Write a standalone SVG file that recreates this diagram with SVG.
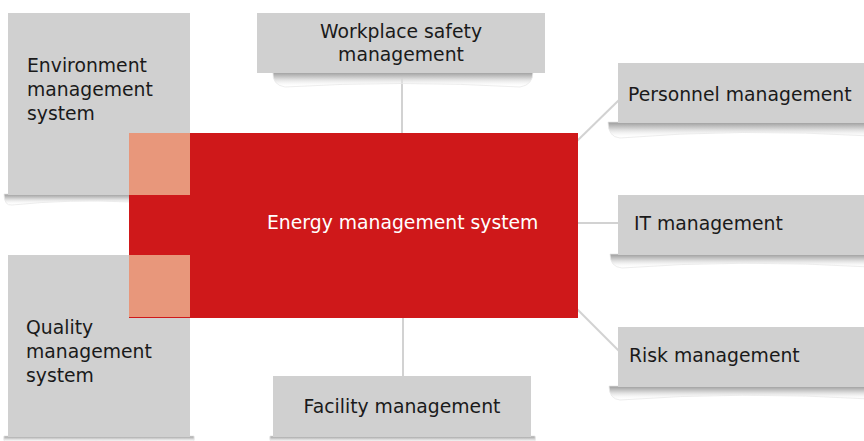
<svg xmlns="http://www.w3.org/2000/svg" width="864" height="441" viewBox="0 0 864 441">
<defs>
<linearGradient id="sh" x1="0" y1="0" x2="0" y2="1">
<stop offset="0" stop-color="#9a9a9a"/>
<stop offset="0.4" stop-color="#d2d2d2"/>
<stop offset="1" stop-color="#ffffff" stop-opacity="0"/>
</linearGradient>
<style>
.box{fill:#d0d0d0}
.shadow{fill:url(#sh);stroke:#e8e8e8;stroke-width:0.8}
.lbl{font-family:"DejaVu Sans","Liberation Sans",sans-serif;font-size:18.8px;fill:#1a1a1a}
.main{font-family:"DejaVu Sans","Liberation Sans",sans-serif;font-size:18.8px;fill:#ffffff}
.conn{stroke:#d2d2d2;stroke-width:2;fill:none}
</style>
</defs>
<rect width="864" height="441" fill="#ffffff"/>

<g id="connectors">
<line class="conn" x1="402" y1="73" x2="402" y2="134"/>
<line class="conn" x1="403" y1="317" x2="403" y2="376"/>
<line class="conn" x1="577" y1="141" x2="619" y2="100"/>
<line class="conn" x1="577" y1="223" x2="619" y2="223"/>
<line class="conn" x1="577" y1="309" x2="619" y2="351"/>
</g>

<g id="env">
<path class="shadow" d="M4,194 L130,194 L130,202 Q70,199 12,205 Q4,206 4,194 Z"/>
<rect class="box" x="8" y="13" width="182" height="182"/>
<text class="lbl" x="27" y="72">Environment</text>
<text class="lbl" x="27" y="96">management</text>
<text class="lbl" x="27" y="120">system</text>
</g>

<g id="quality">
<path class="shadow" d="M4,436 L194,436 Q196,445 186,442 Q100,439 12,442 Q2,445 4,436 Z"/>
<rect class="box" x="8" y="255" width="182" height="182"/>
<text class="lbl" x="26" y="334">Quality</text>
<text class="lbl" x="26" y="358">management</text>
<text class="lbl" x="26" y="382">system</text>
</g>

<g id="workplace">
<path class="shadow" d="M273,72 L533,72 Q533,85 520,87 Q400,80 285,87 Q272,85 273,72 Z"/>
<rect class="box" x="257" y="13" width="288" height="60"/>
<text class="lbl" x="401" y="38" text-anchor="middle">Workplace safety</text>
<text class="lbl" x="401" y="61" text-anchor="middle">management</text>
</g>

<g id="facility">
<path class="shadow" d="M270,436 L535,436 Q538,445 525,443 Q400,440 280,443 Q268,445 270,436 Z"/>
<rect class="box" x="273" y="376" width="258" height="61"/>
<text class="lbl" x="402" y="413" text-anchor="middle">Facility management</text>
</g>

<g id="personnel">
<path class="shadow" d="M608,122 L870,122 L870,136 Q740,128 620,138 Q608,137 608,122 Z"/>
<rect class="box" x="618" y="63" width="252" height="60"/>
<text class="lbl" x="628" y="101">Personnel management</text>
</g>

<g id="it">
<path class="shadow" d="M610,254 L870,254 L870,267 Q740,259 622,268 Q610,267 610,254 Z"/>
<rect class="box" x="618" y="195" width="252" height="60"/>
<text class="lbl" x="634" y="230">IT management</text>
</g>

<g id="risk">
<path class="shadow" d="M609,386 L870,386 L870,399 Q740,391 620,400 Q609,399 609,386 Z"/>
<rect class="box" x="618" y="327" width="252" height="60"/>
<text class="lbl" x="629" y="362">Risk management</text>
</g>

<g id="energy">
<rect x="129" y="133" width="449" height="185" fill="#cf181a"/>
<rect x="129" y="133" width="61" height="62" fill="#e8977b"/>
<rect x="129" y="255" width="61" height="62" fill="#e8977b"/>
<text class="main" x="267" y="229">Energy management system</text>
</g>
</svg>
